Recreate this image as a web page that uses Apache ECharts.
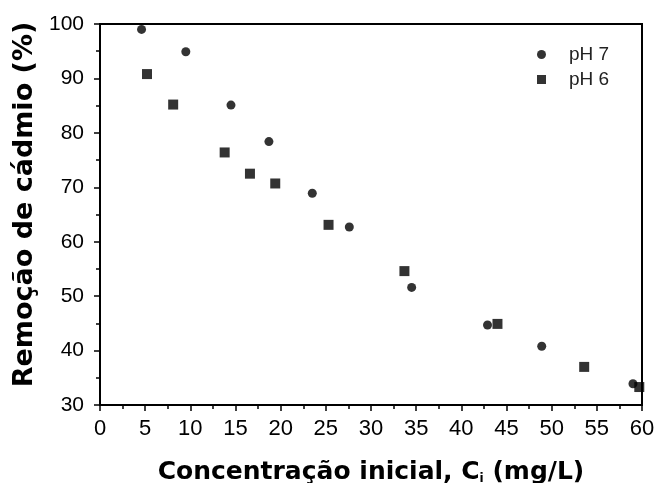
<!DOCTYPE html>
<html><head><meta charset="utf-8">
<script src="https://cdn.jsdelivr.net/npm/echarts@6/dist/echarts.min.js"></script>
<style>html,body{margin:0;padding:0;background:#fff}#c{width:654px;height:483px}</style>
</head><body><div id="c"></div>
<script>
const seriesNames = ['pH 7', 'pH 6'];
const ph7X = [4.6, 9.5, 14.5, 18.7, 23.5, 27.6, 34.5, 42.9, 48.9, 59.0];
const ph7Y = [99.0, 94.9, 85.1, 78.4, 68.9, 62.7, 51.6, 44.7, 40.8, 33.9];
const ph6X = [5.2, 8.1, 13.8, 16.6, 19.4, 25.3, 33.7, 44.0, 53.6, 59.7];
const ph6Y = [90.8, 85.2, 76.4, 72.5, 70.7, 63.1, 54.6, 44.9, 37.0, 33.3];
const xTicks = [0,5,10,15,20,25,30,35,40,45,50,55,60];
const yTicks = [30,40,50,60,70,80,90,100];

const pair = (xs, ys) => xs.map((x, i) => [x, ys[i]]);
const tickFont = 'Liberation Sans, Arial, sans-serif';
const titleFont = 'DejaVu Sans, sans-serif';
const chart = echarts.init(document.getElementById('c'), null, {renderer: 'canvas'});
const axisCommon = {
  axisLine: {show: true, onZero: false, lineStyle: {color: '#000', width: 2}},
  axisTick: {show: true, inside: false, length: 6, lineStyle: {color: '#000', width: 1.5}},
  minorTick: {show: true, splitNumber: 2, length: 4, lineStyle: {color: '#000', width: 1.5}},
  splitLine: {show: false}
};
chart.setOption({
  animation: false,
  backgroundColor: '#fff',
  grid: {left: 100, right: 12, top: 24, bottom: 78, outerBoundsMode: 'none', containLabel: false,
         show: true, borderColor: '#000', borderWidth: 2, backgroundColor: 'transparent'},
  legend: {
    orient: 'vertical', left: 532, top: 40, itemWidth: 9, itemHeight: 9, itemGap: 6,
    textStyle: {fontSize: 19, fontFamily: tickFont, color: '#222', padding: [0, 0, 0, 18]},
    data: [
      {name: seriesNames[0], icon: 'circle', itemStyle: {color: '#000'}},
      {name: seriesNames[1], icon: 'rect', itemStyle: {color: '#000'}}
    ]
  },
  xAxis: Object.assign({}, axisCommon, {
    type: 'value', min: xTicks[0], max: xTicks[xTicks.length-1], interval: 5,
    axisLabel: {color: '#000', fontSize: 22, fontFamily: tickFont, margin: 13},
    name: '{t|Concentração inicial, C}{s|i}{t| (mg/L)}',
    nameLocation: 'middle', nameGap: 55,
    nameTextStyle: {rich: {
      t: {fontSize: 25, fontWeight: 'bold', fontFamily: titleFont, color: '#000'},
      s: {fontSize: 12, fontWeight: 'bold', fontFamily: titleFont, color: '#000', verticalAlign: 'bottom', padding: [10,0,0,0]}
    }}
  }),
  yAxis: Object.assign({}, axisCommon, {
    type: 'value', min: yTicks[0], max: yTicks[yTicks.length-1], interval: 10,
    axisLabel: {color: '#000', fontSize: 21, fontFamily: tickFont, margin: 16},
    name: 'Remoção de cádmio (%)', nameLocation: 'middle', nameGap: 62,
    nameTextStyle: {fontSize: 27, fontWeight: 'bold', fontFamily: titleFont, color: '#000', padding: [0, 0, 0, 20]}
  }),
  series: [
    {name: seriesNames[0], type: 'scatter', symbol: 'circle', symbolSize: 9,
     itemStyle: {color: '#000'}, data: pair(ph7X, ph7Y)},
    {name: seriesNames[1], type: 'scatter', symbol: 'rect', symbolSize: 10,
     itemStyle: {color: '#000'}, data: pair(ph6X, ph6Y)}
  ]
});
</script></body></html>
